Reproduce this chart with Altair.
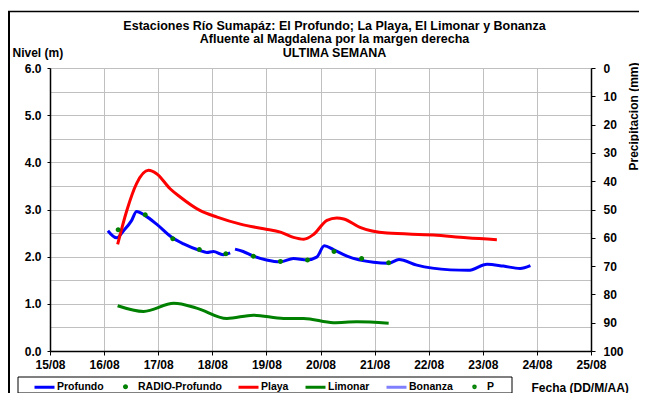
import altair as alt
import pandas as pd

FONT = "Liberation Sans"

# ---- data (day of August, level in m) ----
prof_day = [16.07, 16.23, 16.36, 16.51, 16.60, 16.76, 16.97, 17.25, 17.47, 17.77, 17.90, 18.02, 18.20, 18.33,
            18.42, 18.57, 18.76, 19.00, 19.26, 19.50, 19.75, 19.93, 20.07, 20.24, 20.49, 20.98, 21.26, 21.45,
            21.78, 22.40, 22.73, 23.08, 23.38, 23.69, 23.88]
prof_lvl = [2.55, 2.40, 2.55, 2.77, 2.96, 2.87, 2.69, 2.41, 2.27, 2.13, 2.09, 2.11, 2.04, 2.08,
            2.16, 2.11, 2.01, 1.93, 1.89, 1.96, 1.93, 1.99, 2.23, 2.15, 2.01, 1.88, 1.86, 1.94,
            1.82, 1.72, 1.71, 1.84, 1.80, 1.75, 1.81]
prof_seg = [1] * 14 + [2] * 21

playa_day = [16.25, 16.42, 16.60, 16.82, 16.97, 17.22, 17.40, 17.77, 18.09, 18.52, 18.95, 19.26, 19.50,
             19.69, 19.87, 20.12, 20.30, 20.43, 20.73, 21.23, 22.09, 22.70, 23.26]
playa_lvl = [2.26, 2.98, 3.55, 3.83, 3.76, 3.44, 3.27, 2.98, 2.84, 2.69, 2.59, 2.52, 2.41,
             2.37, 2.47, 2.77, 2.82, 2.80, 2.62, 2.50, 2.46, 2.40, 2.36]

limonar_day = [16.25, 16.73, 17.29, 17.71, 18.27, 18.76, 19.32, 19.69, 20.24, 20.67, 21.26]
limonar_lvl = [0.96, 0.84, 1.01, 0.91, 0.69, 0.76, 0.69, 0.69, 0.60, 0.62, 0.59]

radio_day = [16.26, 16.76, 17.27, 17.76, 18.25, 18.76, 19.26, 19.76, 20.25, 20.76, 21.26]
radio_lvl = [2.57, 2.89, 2.38, 2.15, 2.06, 2.01, 1.90, 1.93, 2.11, 1.96, 1.87]

precip_day = []
precip_mm = []

series_names = ["Profundo", "RADIO-Profundo", "Playa", "Limonar", "Bonanza", "P"]
series_colors = ["#0000ff", "#008000", "#ff0000", "#008000", "#8080ff", "#008000"]
LINE = "M-1,0L1,0"
DOT = "M-0.1,0A0.1,0.1 0 1,0 0.1,0A0.1,0.1 0 1,0 -0.1,0Z"
DOT_S = "M-0.08,0A0.08,0.08 0 1,0 0.08,0A0.08,0.08 0 1,0 -0.08,0Z"
series_shapes = [LINE, DOT, LINE, LINE, LINE, DOT_S]

day_ticks = [15, 16, 17, 18, 19, 20, 21, 22, 23, 24, 25]
level_ticks = [0, 0.5, 1, 1.5, 2, 2.5, 3, 3.5, 4, 4.5, 5, 5.5, 6]
precip_ticks = [0, 10, 20, 30, 40, 50, 60, 70, 80, 90, 100]

title_lines = ["Estaciones Río Sumapáz: El Profundo; La Playa, El Limonar y Bonanza",
               "Afluente al Magdalena por la margen derecha",
               "ULTIMA SEMANA"]

# ---- tables ----
lines_df = pd.concat([
    pd.DataFrame({"series": "Limonar", "seg": "L", "day": limonar_day, "level": limonar_lvl}),
    pd.DataFrame({"series": "Profundo", "seg": ["P%d" % s for s in prof_seg], "day": prof_day, "level": prof_lvl}),
    pd.DataFrame({"series": "Playa", "seg": "Y", "day": playa_day, "level": playa_lvl}),
], ignore_index=True)
radio_df = pd.DataFrame({"series": "RADIO-Profundo", "day": radio_day, "level": radio_lvl})
precip_df = pd.DataFrame({"day": precip_day, "mm": precip_mm})
one = pd.DataFrame({"k": [0]})

W, H = 541, 283

legend = alt.Legend(
    title=None, orient="none", legendX=-17, legendY=307, direction="horizontal",
    symbolSize=400, symbolStrokeWidth=3, labelOffset=1, columnPadding=10, padding=0,
    labelFont=FONT, labelFontSize=10.5, labelFontWeight="bold", labelColor="black",
)
color_scale = alt.Scale(domain=series_names, range=series_colors)
shape_scale = alt.Scale(domain=series_names, range=series_shapes)

x_enc = alt.X(
    "day:Q",
    scale=alt.Scale(domain=[15, 25], nice=False, zero=False),
    axis=alt.Axis(
        values=day_ticks,
        labelExpr="(datum.value < 10 ? '0' : '') + datum.value + '/08'",
        labelAlign="center", labelFlush=False,
        title="Fecha (DD/M/AA)", titleX=481, titleY=40, titleAlign="left",
        titleBaseline="alphabetic", titleAngle=0, labelPadding=4,
    ),
)
y_enc = alt.Y(
    "level:Q",
    scale=alt.Scale(domain=[0, 6], nice=False),
    axis=alt.Axis(
        values=level_ticks,
        labelExpr="datum.value % 1 == 0 ? format(datum.value, '.1f') : ''",
        tickOpacity={"condition": {"test": "datum.value % 1 != 0", "value": 0}, "value": 1},
        title="Nivel (m)", titleAngle=0, titleX=-38, titleY=-11.5, titleAlign="left",
        titleBaseline="alphabetic", labelPadding=6, tickSize=3,
    ),
)

frame_left = alt.Chart(one).mark_rule(color="black", strokeWidth=2).encode(
    x=alt.value(-41), y=alt.value(-57), y2=alt.value(H + 45))
frame_top = alt.Chart(one).mark_rule(color="black", strokeWidth=1.5).encode(
    x=alt.value(-42), x2=alt.value(W + 48), y=alt.value(-56.5))
legend_box = alt.Chart(one).mark_rect(fill="white", stroke="black", strokeWidth=1).encode(
    x=alt.value(-32), x2=alt.value(462), y=alt.value(H + 26), y2=alt.value(H + 42))

title_layers = [
    alt.Chart(one).mark_text(
        text=t, font=FONT, fontSize=12.5, fontWeight="bold", color="black",
        align="center", baseline="alphabetic",
    ).encode(x=alt.value(W / 2 + 14), y=alt.value(-38 + 13.4 * i))
    for i, t in enumerate(title_lines)
]

lines = alt.Chart(lines_df).mark_line(strokeWidth=3, interpolate="monotone").encode(
    x=x_enc, y=y_enc,
    color=alt.Color("series:N", scale=color_scale, legend=legend),
    detail="seg:N",
)
points = alt.Chart(radio_df).mark_point(filled=True, strokeWidth=3, size=400, opacity=1).encode(
    x=x_enc, y=y_enc,
    color=alt.Color("series:N", scale=color_scale, legend=legend),
    stroke=alt.Stroke("series:N", scale=color_scale, legend=legend),
    shape=alt.Shape("series:N", scale=shape_scale, legend=legend),
)

base = alt.layer(frame_left, frame_top, legend_box, *title_layers, lines, points)

precip = alt.Chart(precip_df).mark_point(opacity=0).encode(
    x=x_enc,
    y=alt.Y(
        "mm:Q",
        scale=alt.Scale(domain=[0, 100], reverse=True, nice=False),
        axis=alt.Axis(
            orient="right", values=precip_ticks, grid=False, format="d",
            title="Precipitacion (mm)", titleAngle=270, titleX=46, titleY=48,
            titleAlign="center", titleBaseline="alphabetic", labelPadding=8, tickSize=4,
        ),
    ),
)

chart = alt.layer(base, precip).resolve_scale(y="independent").properties(
    width=W, height=H,
    autosize=alt.AutoSizeParams(type="none"),
    padding={"left": 42, "top": 60, "right": 48, "bottom": 42},
).configure_view(stroke="transparent").configure_axis(
    labelFont=FONT, labelFontSize=12, labelFontWeight="bold", labelColor="black",
    titleFont=FONT, titleFontSize=12, titleFontWeight="bold", titleColor="black",
    domainColor="black", domainWidth=1.5, tickColor="black", tickWidth=1, tickSize=4,
    gridColor="#c0c0c0", gridWidth=1,
)

chart.save("out.html", embed_options={"renderer": "svg", "actions": False})
